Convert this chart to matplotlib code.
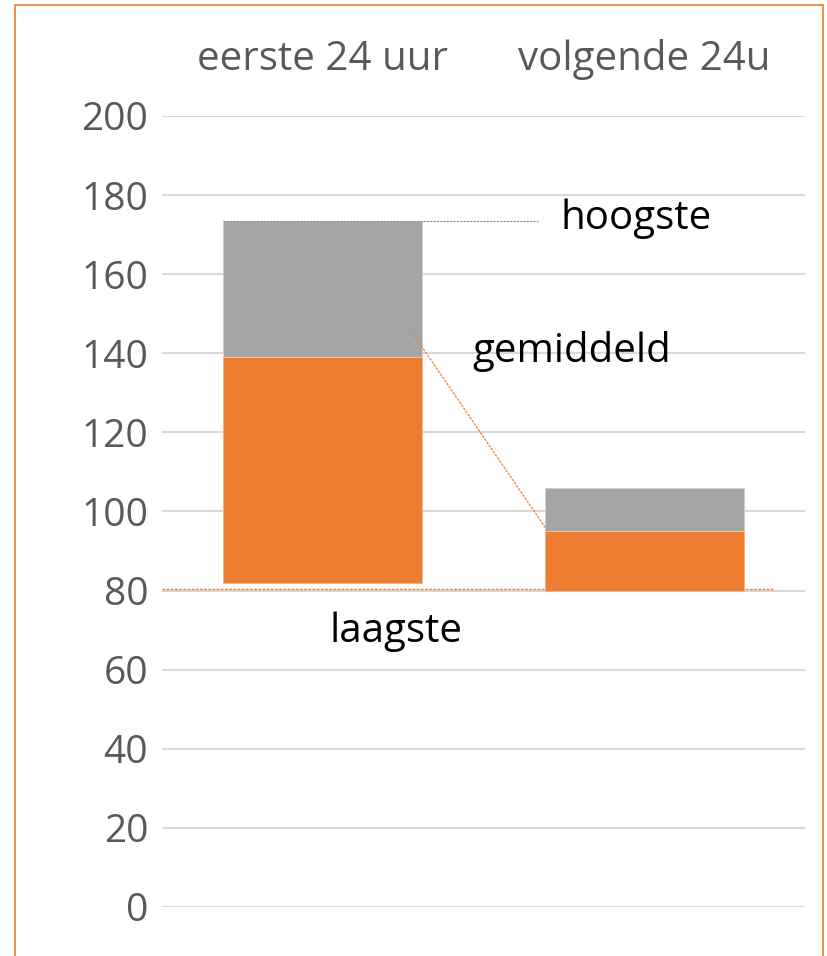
import matplotlib.pyplot as plt
from matplotlib.patches import Rectangle

# data
categories = ["eerste 24 uur", "volgende 24u"]
laagste = [82, 80]
gemiddeld = [139, 95]
hoogste = [173.5, 106]
yticks = [0, 20, 40, 60, 80, 100, 120, 140, 160, 180, 200]

ORANGE = "#ED7D31"
GRAY = "#A5A5A5"
TXT = "#595959"

plt.rcParams["font.family"] = ["Open Sans", "DejaVu Sans"]

fig = plt.figure(figsize=(8.28, 9.56), dpi=100)
ax = fig.add_axes([0.1957, 0.0513, 0.7765, 0.8274])

x = list(range(len(categories)))
low_part = [g - l for g, l in zip(gemiddeld, laagste)]
high_part = [h - g for h, g in zip(hoogste, gemiddeld)]
ax.bar(x, low_part, bottom=laagste, width=0.62, color=ORANGE,
       edgecolor="#f4b183", linewidth=0.6, zorder=3)
ax.bar(x, high_part, bottom=gemiddeld, width=0.62, color=GRAY,
       edgecolor="#d0d0d0", linewidth=0.6, zorder=3)

ax.set_xlim(-0.5, 1.5)
ax.set_ylim(0, 200)
ax.set_yticks(yticks)
ax.yaxis.grid(True, color="#d9d9d9", linewidth=1.5, zorder=0)
ax.set_axisbelow(True)
for s in ax.spines.values():
    s.set_visible(False)
ax.tick_params(axis="y", length=0, pad=10, labelsize=28, labelcolor=TXT)

ax.xaxis.tick_top()
ax.set_xticks(x)
ax.set_xticklabels(categories)
ax.tick_params(axis="x", length=0, pad=26, labelsize=29, labelcolor=TXT)

# callouts
ax.plot([-0.31, 0.67], [hoogste[0], hoogste[0]], color="#8c8c8c",
        linestyle=(0, (2, 1)), linewidth=0.8, zorder=4)
ax.text(0.74, hoogste[0] + 0.5, "hoogste", fontsize=29, va="center", ha="left")

ax.plot([0.28, 0.70], [145, gemiddeld[1]], color=ORANGE,
        linestyle=(0, (2, 1)), linewidth=0.9, zorder=4)
ax.text(0.465, 140.5, "gemiddeld", fontsize=29, va="center", ha="left")

ax.plot([-0.5, 1.4], [80.5, 80.5], color=ORANGE,
        linestyle=(0, (2, 1)), linewidth=1.0, zorder=4)
ax.text(0.02, 69.5, "laagste", fontsize=29, va="center", ha="left")

# orange frame around chart
fig.patches.append(Rectangle((15 / 828, -0.05), 808 / 828, 1.0 - 5 / 956 + 0.05,
                             transform=fig.transFigure, fill=False,
                             edgecolor=ORANGE, linewidth=1.2))

fig.savefig("out.png", dpi=100, facecolor="white")
